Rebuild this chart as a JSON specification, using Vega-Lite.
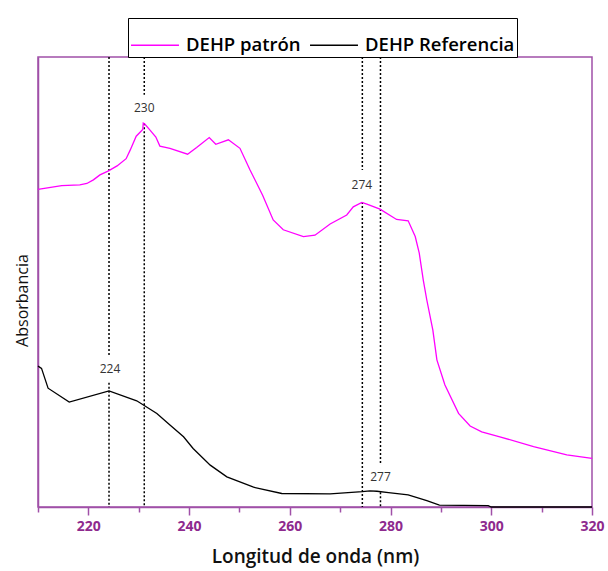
{
  "$schema": "https://vega.github.io/schema/vega-lite/v6.json",
  "width": 554,
  "height": 450,
  "autosize": {"type": "none"},
  "padding": {"left": 38, "top": 57, "right": 16, "bottom": 64},
  "background": "white",
  "config": {
    "view": {"stroke": "#a050a8", "strokeWidth": 1.5},
    "font": "Open Sans"
  },
  "datasets": {
    "spectra": [
      {"nm": 210.0, "abs": 0.706, "serie": "DEHP patrón"},
      {"nm": 214.7, "abs": 0.714, "serie": "DEHP patrón"},
      {"nm": 218.3, "abs": 0.716, "serie": "DEHP patrón"},
      {"nm": 219.7, "abs": 0.719, "serie": "DEHP patrón"},
      {"nm": 221.0, "abs": 0.727, "serie": "DEHP patrón"},
      {"nm": 222.3, "abs": 0.738, "serie": "DEHP patrón"},
      {"nm": 224.0, "abs": 0.747, "serie": "DEHP patrón"},
      {"nm": 225.7, "abs": 0.758, "serie": "DEHP patrón"},
      {"nm": 227.5, "abs": 0.774, "serie": "DEHP patrón"},
      {"nm": 228.3, "abs": 0.793, "serie": "DEHP patrón"},
      {"nm": 229.5, "abs": 0.824, "serie": "DEHP patrón"},
      {"nm": 230.8, "abs": 0.839, "serie": "DEHP patrón"},
      {"nm": 230.9, "abs": 0.853, "serie": "DEHP patrón"},
      {"nm": 231.2, "abs": 0.851, "serie": "DEHP patrón"},
      {"nm": 232.2, "abs": 0.838, "serie": "DEHP patrón"},
      {"nm": 233.4, "abs": 0.822, "serie": "DEHP patrón"},
      {"nm": 234.2, "abs": 0.802, "serie": "DEHP patrón"},
      {"nm": 236.2, "abs": 0.797, "serie": "DEHP patrón"},
      {"nm": 239.7, "abs": 0.784, "serie": "DEHP patrón"},
      {"nm": 241.5, "abs": 0.799, "serie": "DEHP patrón"},
      {"nm": 244.0, "abs": 0.821, "serie": "DEHP patrón"},
      {"nm": 245.3, "abs": 0.806, "serie": "DEHP patrón"},
      {"nm": 247.8, "abs": 0.816, "serie": "DEHP patrón"},
      {"nm": 250.1, "abs": 0.797, "serie": "DEHP patrón"},
      {"nm": 252.1, "abs": 0.749, "serie": "DEHP patrón"},
      {"nm": 254.6, "abs": 0.693, "serie": "DEHP patrón"},
      {"nm": 256.7, "abs": 0.638, "serie": "DEHP patrón"},
      {"nm": 258.7, "abs": 0.616, "serie": "DEHP patrón"},
      {"nm": 262.7, "abs": 0.601, "serie": "DEHP patrón"},
      {"nm": 265.0, "abs": 0.604, "serie": "DEHP patrón"},
      {"nm": 268.0, "abs": 0.629, "serie": "DEHP patrón"},
      {"nm": 271.3, "abs": 0.649, "serie": "DEHP patrón"},
      {"nm": 272.6, "abs": 0.667, "serie": "DEHP patrón"},
      {"nm": 274.3, "abs": 0.677, "serie": "DEHP patrón"},
      {"nm": 275.3, "abs": 0.673, "serie": "DEHP patrón"},
      {"nm": 277.9, "abs": 0.662, "serie": "DEHP patrón"},
      {"nm": 281.2, "abs": 0.639, "serie": "DEHP patrón"},
      {"nm": 283.5, "abs": 0.636, "serie": "DEHP patrón"},
      {"nm": 284.9, "abs": 0.601, "serie": "DEHP patrón"},
      {"nm": 285.7, "abs": 0.564, "serie": "DEHP patrón"},
      {"nm": 286.5, "abs": 0.504, "serie": "DEHP patrón"},
      {"nm": 287.2, "abs": 0.460, "serie": "DEHP patrón"},
      {"nm": 288.4, "abs": 0.393, "serie": "DEHP patrón"},
      {"nm": 289.2, "abs": 0.327, "serie": "DEHP patrón"},
      {"nm": 290.8, "abs": 0.271, "serie": "DEHP patrón"},
      {"nm": 293.5, "abs": 0.208, "serie": "DEHP patrón"},
      {"nm": 295.8, "abs": 0.180, "serie": "DEHP patrón"},
      {"nm": 298.1, "abs": 0.167, "serie": "DEHP patrón"},
      {"nm": 301.7, "abs": 0.156, "serie": "DEHP patrón"},
      {"nm": 308.4, "abs": 0.134, "serie": "DEHP patrón"},
      {"nm": 315.0, "abs": 0.116, "serie": "DEHP patrón"},
      {"nm": 320.0, "abs": 0.108, "serie": "DEHP patrón"},
      {"nm": 210.0, "abs": 0.313, "serie": "DEHP Referencia"},
      {"nm": 210.7, "abs": 0.308, "serie": "DEHP Referencia"},
      {"nm": 212.0, "abs": 0.264, "serie": "DEHP Referencia"},
      {"nm": 216.2, "abs": 0.233, "serie": "DEHP Referencia"},
      {"nm": 224.1, "abs": 0.258, "serie": "DEHP Referencia"},
      {"nm": 229.6, "abs": 0.236, "serie": "DEHP Referencia"},
      {"nm": 233.6, "abs": 0.208, "serie": "DEHP Referencia"},
      {"nm": 236.2, "abs": 0.182, "serie": "DEHP Referencia"},
      {"nm": 238.9, "abs": 0.156, "serie": "DEHP Referencia"},
      {"nm": 240.8, "abs": 0.130, "serie": "DEHP Referencia"},
      {"nm": 244.2, "abs": 0.093, "serie": "DEHP Referencia"},
      {"nm": 247.5, "abs": 0.067, "serie": "DEHP Referencia"},
      {"nm": 252.8, "abs": 0.044, "serie": "DEHP Referencia"},
      {"nm": 258.4, "abs": 0.030, "serie": "DEHP Referencia"},
      {"nm": 268.0, "abs": 0.029, "serie": "DEHP Referencia"},
      {"nm": 274.4, "abs": 0.034, "serie": "DEHP Referencia"},
      {"nm": 275.9, "abs": 0.036, "serie": "DEHP Referencia"},
      {"nm": 277.3, "abs": 0.035, "serie": "DEHP Referencia"},
      {"nm": 279.6, "abs": 0.032, "serie": "DEHP Referencia"},
      {"nm": 283.5, "abs": 0.027, "serie": "DEHP Referencia"},
      {"nm": 287.2, "abs": 0.014, "serie": "DEHP Referencia"},
      {"nm": 289.7, "abs": 0.004, "serie": "DEHP Referencia"},
      {"nm": 299.4, "abs": 0.003, "serie": "DEHP Referencia"},
      {"nm": 300.0, "abs": 0.0, "serie": "DEHP Referencia"},
      {"nm": 320.0, "abs": 0.0, "serie": "DEHP Referencia"}
    ],
    "guides": [
      {"nm": 224.1, "y1": 1.0, "y2": 0.338},
      {"nm": 224.1, "y1": 0.276, "y2": 0.0},
      {"nm": 231.1, "y1": 1.0, "y2": 0.916},
      {"nm": 231.1, "y1": 0.853, "y2": 0.0},
      {"nm": 274.4, "y1": 1.0, "y2": 0.749},
      {"nm": 274.4, "y1": 0.678, "y2": 0.0},
      {"nm": 278.0, "y1": 1.0, "y2": 0.098},
      {"nm": 278.0, "y1": 0.033, "y2": 0.0}
    ],
    "labels": [
      {"nm": 231.1, "y": 0.887, "text": "230"},
      {"nm": 274.3, "y": 0.716, "text": "274"},
      {"nm": 224.3, "y": 0.307, "text": "224"},
      {"nm": 278.0, "y": 0.067, "text": "277"}
    ]
  },
  "layer": [
    {
      "data": {"name": "guides"},
      "mark": {"type": "rule", "color": "black", "strokeWidth": 1.5, "strokeDash": [2, 2]},
      "encoding": {
        "x": {"field": "nm", "type": "quantitative", "scale": {"domain": [210, 320], "nice": false, "zero": false},
          "axis": {"values": [210, 220, 230, 240, 250, 260, 270, 280, 290, 300, 310, 320], "labelExpr": "datum.value % 20 == 0 ? datum.label : ''", "tickSize": {"expr": "datum.value % 20 == 0 ? 8 : 5"}, "grid": false, "domainColor": "#a050a8", "domainWidth": 1.5, "tickColor": "#a050a8", "tickWidth": 1.5, "labelColor": "#8e2a8e", "labelFontWeight": "bold", "labelFontSize": 14, "labelPadding": 4, "labelFont": "Open Sans", "labelFlush": false, "title": "Longitud de onda (nm)", "titleFontSize": 19, "titleFontWeight": 600, "titleColor": "#111111", "titlePadding": 14, "titleFont": "Open Sans"}},
        "y": {"field": "y1", "type": "quantitative", "scale": {"domain": [0, 1], "nice": false},
          "axis": {"labels": false, "ticks": false, "grid": false, "domainColor": "#a050a8", "domainWidth": 1.5, "title": "Absorbancia", "titleFontSize": 16, "titleFontWeight": "normal", "titleColor": "#111111", "titlePadding": 8, "titleY": 243, "titleFont": "Open Sans"}},
        "y2": {"field": "y2"}
      }
    },
    {
      "data": {"name": "spectra"},
      "mark": {"type": "line", "strokeWidth": 1.3, "interpolate": "linear"},
      "encoding": {
        "x": {"field": "nm", "type": "quantitative"},
        "y": {"field": "abs", "type": "quantitative"},
        "color": {"field": "serie", "type": "nominal",
          "scale": {"domain": ["DEHP patrón", "DEHP Referencia"], "range": ["#ff00ff", "#000000"]},
          "legend": {"title": null, "orient": "none", "legendX": 90, "legendY": -39, "direction": "horizontal", "symbolType": "stroke", "symbolSize": 2300, "symbolStrokeWidth": 1.5, "labelFontSize": 18.5, "labelFontWeight": 600, "labelFont": "Open Sans", "labelColor": "black", "strokeColor": "black", "padding": 2, "columnPadding": 6, "labelOffset": 6, "fillColor": "white"}}
      }
    },
    {
      "data": {"name": "labels"},
      "mark": {"type": "text", "fontSize": 12, "color": "#333333", "baseline": "middle", "align": "center", "font": "Open Sans"},
      "encoding": {
        "x": {"field": "nm", "type": "quantitative"},
        "y": {"field": "y", "type": "quantitative"},
        "text": {"field": "text"}
      }
    }
  ]
}
